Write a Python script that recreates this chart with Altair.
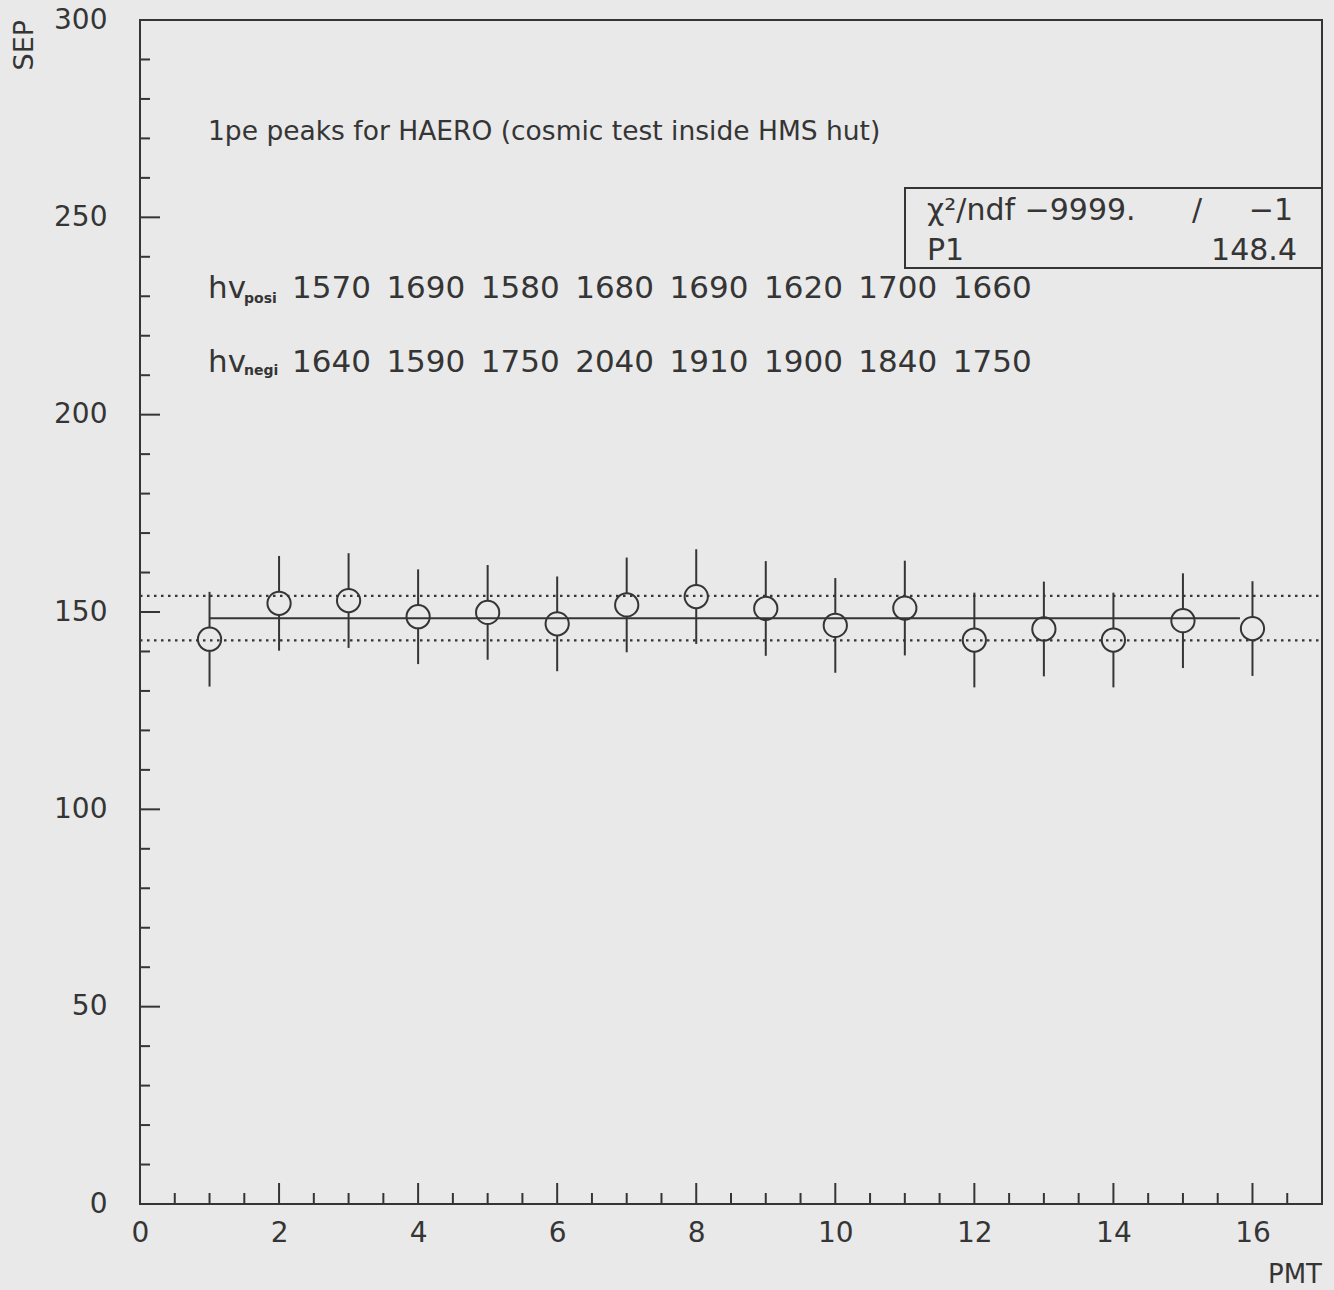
import altair as alt
import pandas as pd

# ---------------- data ----------------
pmt = list(range(1, 17))
sep = [143.1, 152.2, 152.9, 148.8, 149.9, 147.0, 151.8, 153.9,
       150.9, 146.6, 151.0, 142.9, 145.7, 142.9, 147.8, 145.8]
sep_err = [12.0] * 16
fit_p1 = 148.4
fit_range = [1.0, 15.82]
band = [142.8, 154.1]
hv_posi = [1570, 1690, 1580, 1680, 1690, 1620, 1700, 1660]
hv_negi = [1640, 1590, 1750, 2040, 1910, 1900, 1840, 1750]
x_labels = list(range(0, 17, 2))
x_minor = [0.5 * i for i in range(1, 34) if i % 4 != 0]
y_major = list(range(0, 301, 50))
y_minor = [v for v in range(10, 300, 10) if v % 50]

title_txt = "1pe peaks for HAERO (cosmic test inside HMS hut)"

# ---------------- style ----------------
W, H = 1182, 1184
BG = "#e9e9e9"
INK = "#353535"
FONT = "DejaVu Sans"

xs = alt.Scale(domain=[0, 17], nice=False, zero=False)
ys = alt.Scale(domain=[0, 300], nice=False, zero=False)

df = pd.DataFrame({"pmt": pmt, "sep": sep, "err": sep_err})
df["lo"] = df["sep"] - df["err"]
df["hi"] = df["sep"] + df["err"]

errbars = alt.Chart(df).mark_rule(color=INK, strokeWidth=2).encode(
    x=alt.X("pmt:Q", scale=xs, title=None,
            axis=alt.Axis(values=x_labels, format="d", labelFontSize=28,
                          labelFont=FONT, labelColor=INK, labelPadding=15,
                          labelFlush=False, ticks=False, domain=False, grid=False)),
    y=alt.Y("lo:Q", scale=ys, title=None,
            axis=alt.Axis(values=y_major, format="d", labelFontSize=28,
                          labelFont=FONT, labelColor=INK, labelPadding=33,
                          labelFlush=False, ticks=False, domain=False, grid=False)),
    y2="hi:Q",
)

points = alt.Chart(df).mark_circle(
    fill=BG, stroke=INK, strokeWidth=2, size=540, opacity=1
).encode(x=alt.X("pmt:Q", scale=xs), y=alt.Y("sep:Q", scale=ys))

fit_df = pd.DataFrame({"x0": [fit_range[0]], "x1": [fit_range[1]], "p1": [fit_p1]})
fitline = alt.Chart(fit_df).mark_rule(color=INK, strokeWidth=2).encode(
    x=alt.X("x0:Q", scale=xs), x2="x1:Q", y=alt.Y("p1:Q", scale=ys)
)

band_df = pd.DataFrame({"b": band})
bandlines = alt.Chart(band_df).mark_rule(
    color=INK, strokeWidth=2.2, strokeDash=[2.5, 4.5]
).encode(y=alt.Y("b:Q", scale=ys), x=alt.value(0), x2=alt.value(W))

# ticks (inward)
xmaj = alt.Chart(pd.DataFrame({"t": x_labels})).mark_rule(color=INK, strokeWidth=2).encode(
    x=alt.X("t:Q", scale=xs), y=alt.value(H), y2=alt.value(H - 21))
xmin = alt.Chart(pd.DataFrame({"t": x_minor})).mark_rule(color=INK, strokeWidth=2).encode(
    x=alt.X("t:Q", scale=xs), y=alt.value(H), y2=alt.value(H - 11))
ymaj = alt.Chart(pd.DataFrame({"t": y_major})).mark_rule(color=INK, strokeWidth=2).encode(
    y=alt.Y("t:Q", scale=ys), x=alt.value(0), x2=alt.value(20))
ymin = alt.Chart(pd.DataFrame({"t": y_minor})).mark_rule(color=INK, strokeWidth=2).encode(
    y=alt.Y("t:Q", scale=ys), x=alt.value(0), x2=alt.value(10))


def label(text, x, y, size, align="left", angle=0, weight="normal"):
    return alt.Chart(pd.DataFrame({"t": [text]})).mark_text(
        align=align, baseline="alphabetic", font=FONT, fontSize=size,
        color=INK, angle=angle, fontWeight=weight
    ).encode(x=alt.value(x), y=alt.value(y), text="t:N")


sp = "\u2002"
texts = [
    label(title_txt, 68, 120, 26.5),
    label("hv", 68, 278, 31),
    label("posi", 104, 283, 14, weight="bold"),
    label(sp.join(str(v) for v in hv_posi), 152, 278, 31),
    label("hv", 68, 352, 31),
    label("negi", 104, 355, 14, weight="bold"),
    label(sp.join(str(v) for v in hv_negi), 152, 352, 31),
    label("\u03c7\u00b2/ndf \u22129999.", 787, 200, 30),
    label("/", 1057, 200, 30, align="center"),
    label("\u22121", 1153, 200, 30, align="right"),
    label("P1", 787, 240, 30),
    label(str(fit_p1), 1157, 240, 30, align="right"),
    label("SEP", -107, 0, 27, align="right", angle=270),
    label("PMT", W, 1263, 26, align="right"),
]

statbox = alt.Chart(pd.DataFrame({"a": [0]})).mark_rect(
    fill=None, stroke=INK, strokeWidth=2
).encode(x=alt.value(765), x2=alt.value(W), y=alt.value(168), y2=alt.value(248))

chart = alt.layer(
    errbars, points, fitline, bandlines, xmaj, xmin, ymaj, ymin, statbox, *texts
).properties(
    width=W, height=H,
    padding={"left": 140, "top": 20, "right": 12, "bottom": 86},
    autosize=alt.AutoSizeParams(type="none"),
    background=BG,
).configure_view(stroke=INK, strokeWidth=2)

chart.save("out.html", embed_options={"renderer": "svg", "actions": False})
